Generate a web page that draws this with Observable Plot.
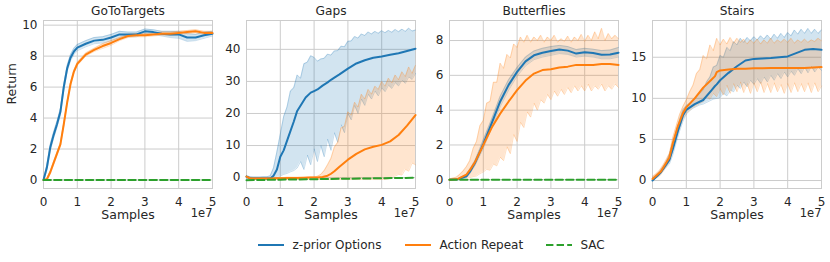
<!DOCTYPE html>
<html><head><meta charset="utf-8">
<script src="https://cdn.jsdelivr.net/npm/d3@7"></script>
<script src="https://cdn.jsdelivr.net/npm/@observablehq/plot@0.6"></script>
<style>
body{margin:0;background:#fff;font-family:"DejaVu Sans",sans-serif;}
#wrap{position:relative;width:830px;height:262px;overflow:hidden;background:#fff;}
#wrap > svg{position:absolute;top:0;overflow:visible;background:transparent;}
</style></head><body><div id="wrap"></div>
<script>
// ---------- data (x in units of 1e7 samples) ----------
const titles = ["GoToTargets", "Gaps", "Butterflies", "Stairs"];
const legendLabels = ["z-prior Options", "Action Repeat", "SAC"];
const xTicks = [0, 1, 2, 3, 4, 5];
const fineX = [0,0.1,0.2,0.3,0.4,0.5,0.6,0.7,0.8,0.9,1.0,1.1,1.2,1.3,1.4,1.5,1.6,1.7,1.8,1.9,2.0,2.1,2.2,2.3,2.4,2.5,2.6,2.7,2.8,2.9,3.0,3.1,3.2,3.3,3.4,3.5,3.6,3.7,3.8,3.9,4.0,4.1,4.2,4.3,4.4,4.5,4.6,4.7,4.8,4.9,5.0];

// GoToTargets
const gotoX   = [0,0.1,0.2,0.3,0.4,0.5,0.6,0.7,0.8,0.9,1.0,1.25,1.5,1.75,2.0,2.25,2.5,2.75,3.0,3.25,3.5,3.75,4.0,4.25,4.5,4.75,5.0];
const gotoZ   = [0,0.8,2.1,2.9,3.6,4.4,6.0,7.2,7.9,8.3,8.55,8.8,9.0,9.05,9.2,9.4,9.4,9.4,9.6,9.55,9.45,9.4,9.4,9.2,9.2,9.35,9.45];
const gotoZlo = [0,0.6,1.9,2.7,3.4,4.2,5.8,7.0,7.7,8.1,8.35,8.6,8.8,8.85,9.0,9.2,9.25,9.25,9.45,9.4,9.3,9.2,9.15,8.95,9.0,9.15,9.3];
const gotoZhi = [0,1.0,2.3,3.1,3.8,4.6,6.2,7.4,8.1,8.5,8.75,9.0,9.2,9.25,9.4,9.6,9.55,9.55,9.75,9.7,9.6,9.6,9.6,9.45,9.4,9.55,9.6];
const gotoA   = [0,0.05,0.5,1.1,1.7,2.3,3.6,5.0,6.2,7.0,7.5,8.1,8.4,8.65,8.85,9.1,9.3,9.35,9.35,9.4,9.45,9.45,9.5,9.55,9.6,9.5,9.5];
const gotoAlo = [0,0.0,0.4,1.0,1.6,2.2,3.5,4.9,6.1,6.9,7.4,8.0,8.3,8.5,8.7,9.0,9.2,9.25,9.25,9.3,9.35,9.35,9.4,9.45,9.5,9.4,9.4];
const gotoAhi = [0,0.1,0.6,1.2,1.8,2.4,3.7,5.1,6.3,7.1,7.6,8.2,8.5,8.8,9.0,9.2,9.4,9.45,9.45,9.5,9.55,9.55,9.6,9.65,9.7,9.6,9.6];
const gotoSacX = [0, 5];
const gotoSac  = [0, 0];

// Gaps
const gapsX   = [0,0.1,0.25,0.5,0.7,0.8,0.9,1.0,1.1,1.25,1.4,1.5,1.75,1.9,2.0,2.1,2.25,2.4,2.5,2.6,2.75,3.0,3.25,3.5,3.75,4.0,4.25,4.5,4.75,5.0];
const gapsZ   = [0.3,-0.2,-0.3,-0.3,-0.3,0.6,2.5,6.5,8.5,13,17.5,20.8,25,26.5,27,27.5,28.7,29.7,30.5,31.2,32.2,34,35.6,36.6,37.4,37.8,38.3,38.8,39.5,40.2];
const gapsA   = [0.3,-0.2,-0.3,-0.3,-0.3,-0.25,-0.2,-0.2,-0.2,-0.15,-0.1,-0.1,-0.05,0,0,0.05,0.2,0.6,1.2,2.0,3.4,5.6,7.4,8.8,9.6,10.2,11.3,13.3,16.2,19.5];
const gapsZlo = [-0.5,-0.5,-0.5,-0.5,-0.5,-0.5,-0.5,-0.5,-0.4,0, 0.5,1,1.3,1.8,2.2,3,5,2.5,7,4, 9,5,10,6.5,12,8.5,14,11,16.5,14, 20,18,22.5,20,24.5,22.5,26,24.5,27,25.5, 28,26.8,28.8,27.8,29.6,28.6,30.4,29.4,31.4,30.6, 32.5];
const gapsZhi = [0.6,0.3,0.2,0.2,0.2,0.3,0.3,0.5,3,8, 13.5,19,22,27,28,32,31,35.5,36,38, 37.5,36.3,37,37.2,38.5,38.2,39.5,39.6,41,40.8, 42.5,42.6,44,43.5,44.8,44.3,45.4,44.8,45.6,45, 45.8,45.2,45.9,45.3,46.2,45.5,46.3,45.6,46.6,45.7, 46];
const gapsAlo = [0,-0.6,-0.6,-0.6,-0.6,-0.6,-0.6,-0.6,-0.6,-0.6, -0.6,-0.6,-0.6,-0.6,-0.6,-0.6,-0.6,-0.6,-0.6,-0.6, -0.6,-0.6,-0.6,-0.6,-0.6,-0.6,-0.6,-0.6,-0.6,-0.6, -0.6,-0.6,-0.6,-0.6,-0.6,-0.6,-0.6,-0.6,-0.6,-0.6, -0.6,-0.6,-0.4,0,0.5,1,0.8,2.5,2,4.5, 4];
const gapsAhi = [0.5,0.1,-0.1,-0.1,-0.1,-0.1,-0.1,-0.1,0,0, 0,0,0.1,0.1,0.1,0.1,0.1,0.1,0.2,0.2, 0.2,0.4,1.0,2.2,4,6,9.5,11,15.5,16, 20.5,19.5,23.5,22,26,24.5,27.5,26,28.5,27.5, 30,28.5,31,29.5,32,30.5,33,31.5,34.5,32.5, 35];
const gapsSacX = [0, 1, 2, 3, 4, 5];
const gapsSac  = [-0.8, -0.65, -0.5, -0.35, -0.2, -0.05];

// Butterflies
const butX   = [0,0.25,0.5,0.6,0.75,0.9,1.0,1.25,1.5,1.75,2.0,2.25,2.5,2.75,3.0,3.25,3.5,3.75,4.0,4.25,4.5,4.75,5.0];
const butZ   = [0,0.03,0.2,0.45,0.95,1.6,2.05,3.25,4.5,5.45,6.2,6.8,7.15,7.3,7.4,7.48,7.42,7.25,7.32,7.28,7.18,7.2,7.3];
const butZlo = [0,0.01,0.12,0.35,0.8,1.4,1.8,3.0,4.2,5.15,5.95,6.55,6.9,7.05,7.15,7.25,7.2,7.05,7.1,7.05,6.95,6.95,7.05];
const butZhi = [0,0.06,0.3,0.6,1.1,1.8,2.3,3.5,4.8,5.75,6.45,7.05,7.4,7.55,7.65,7.72,7.65,7.48,7.55,7.5,7.42,7.45,7.6];
const butA   = [0,0.05,0.3,0.55,1.0,1.6,2.0,3.0,3.8,4.5,5.15,5.7,6.1,6.3,6.35,6.45,6.5,6.6,6.6,6.6,6.65,6.65,6.6];
const butAlo = [0,0,0,0.05,0.08,0.1,0.12,0.18,0.22,0.35, 0.45,0.6,0.55,0.9,0.8,1.3,1.1,1.9,1.5,2.6, 2.2,3.3,3.0,3.9,3.6,4.4,4.0,4.6,4.4,4.9, 4.6,5.1,4.8,5.2,4.9,5.3,5.0,5.4,5.1,5.4, 5.1,5.5,5.1,5.4,5.2,5.5,5.1,5.4,5.2,5.5, 5.3];
const butAhi = [0.05,0.1,0.15,0.3,0.5,0.75,1.1,1.8,2.2,3.1, 3.4,4.4,4.5,5.6,5.6,6.7,6.4,7.2,7.0,7.8, 7.6,8.2,7.9,8.3,7.9,8.2,8.0,8.3,7.9,8.2, 8.0,8.3,7.9,8.1,7.95,8.25,7.9,8.2,8.0,8.35, 7.95,8.3,8.0,8.5,8.1,8.7,8.0,8.4,8.1,8.3, 8.1];
const butSacX = [0, 5];
const butSac  = [0, 0];

// Stairs
const stX   = [0,0.25,0.5,0.6,0.75,0.9,1.0,1.25,1.5,1.75,1.85,1.9,2.0,2.25,2.5,2.75,3.0,3.25,3.5,3.75,4.0,4.25,4.5,4.75,5.0];
const stZ   = [0,1.0,2.5,3.8,6.0,7.9,8.6,9.3,9.8,11.0,11.5,11.7,12.2,13.1,13.9,14.6,14.8,14.85,14.9,15.0,15.1,15.5,15.9,16.0,15.9];
const stA   = [0.2,1.1,2.8,4.5,6.6,8.2,8.9,10.0,11.3,12.3,12.7,13.2,13.4,13.5,13.6,13.6,13.65,13.65,13.7,13.7,13.7,13.7,13.7,13.75,13.8];
const stZlo = [0,0.3,0.6,1.2,1.6,2.0,3.1,4.6,6.0,7.2, 8.1,8.5,8.8,9.0,9.2,9.3,9.5,9.7,9.9,10.0, 10.1,10.6,10.3,11.0,10.8,11.6,11.2,12.0,11.4,12.2, 11.7,12.4,11.8,12.6,12.0,12.8,12.2,13.0,12.4,13.2, 12.6,13.3,12.8,13.6,13.0,13.8,13.1,13.9,13.2,13.8, 13.4];
const stZhi = [0.3,0.6,1.0,1.6,2.2,3.2,4.6,6.0,7.4,8.6, 9.1,9.4,9.8,10.2,10.6,11.0,12.0,12.6,13.8,14.0, 15.2,15.0,16.2,15.8,16.9,16.5,17.3,16.8,17.4,17.0, 17.5,17.1,17.6,17.2,17.7,17.2,17.8,17.3,17.9,17.4, 18.0,17.6,18.3,17.8,18.4,17.9,18.5,17.9,18.4,17.9, 18.3];
const stAlo = [0,0.3,0.5,1.0,1.6,2.3,3.8,5.2,6.4,7.5, 8.1,8.5,8.9,9.1,9.4,9.6,10.2,9.9,10.6,10.2, 11.2,10.4,11.6,10.6,11.8,10.8,12.0,10.7,11.8,10.6, 11.9,10.8,12.0,10.7,11.8,10.7,11.9,10.8,11.7,10.6, 11.8,10.7,11.9,10.8,11.8,10.8,11.9,10.7,11.9,10.8, 11.5];
const stAhi = [0.5,0.8,1.2,1.8,2.5,3.3,5.2,6.6,8.0,9.0, 9.8,10.8,11.6,13.0,13.5,15.2,14.8,16.5,15.8,17.3, 16.5,17.2,16.6,17.4,16.7,17.3,16.8,17.2,16.6,17.1, 16.7,17.2,16.6,17.1,16.7,17.3,16.7,17.1,16.8,17.2, 16.8,17.3,16.7,17.1,16.8,17.2,16.8,17.1,16.9,17.3, 17.0];

const yTicksGoto = [0, 2, 4, 6, 8, 10];
const yTicksGaps = [0, 10, 20, 30, 40];
const yTicksBut  = [0, 2, 4, 6, 8];
const yTicksSt   = [0, 5, 10, 15];

// ---------- drawing ----------
const BLUE = "#1f77b4", ORANGE = "#ff7f0e", GREEN = "#2ca02c";
const line = (x, y) => x.map((v, i) => ({x: v, y: y[i]}));
const band = (x, lo, hi) => x.map((v, i) => ({x: v, lo: lo[i], hi: hi[i]}));

const panels = [
  {title: titles[0], left: 43.3, yDomain: [-0.55, 10.3], yTicks: yTicksGoto, ylabel: "Return",
   z: line(gotoX, gotoZ), zb: band(gotoX, gotoZlo, gotoZhi),
   a: line(gotoX, gotoA), ab: band(gotoX, gotoAlo, gotoAhi),
   sac: line(gotoSacX, gotoSac)},
  {title: titles[1], left: 246, yDomain: [-3.4, 49.0], yTicks: yTicksGaps,
   z: line(gapsX, gapsZ), zb: band(fineX, gapsZlo, gapsZhi),
   a: line(gapsX, gapsA), ab: band(fineX, gapsAlo, gapsAhi),
   sac: line(gapsSacX, gapsSac)},
  {title: titles[2], left: 448.5, yDomain: [-0.5, 9.15], yTicks: yTicksBut,
   z: line(butX, butZ), zb: band(butX, butZlo, butZhi),
   a: line(butX, butA), ab: band(fineX, butAlo, butAhi),
   sac: line(butSacX, butSac)},
  {title: titles[3], left: 651.7, yDomain: [-0.97, 19.47], yTicks: yTicksSt,
   z: line(stX, stZ), zb: band(fineX, stZlo, stZhi),
   a: line(stX, stA), ab: band(fineX, stAlo, stAhi),
   sac: null}
];

const ML = 40, MR = 12, PW = 169;
const wrap = document.getElementById("wrap");
const TXT = "#262626";

for (const p of panels) {
  const bandMarks = (d, c) => [
    Plot.areaY(d, {x: "x", y1: "lo", y2: "hi", fill: c, fillOpacity: 0.2}),
    Plot.lineY(d, {x: "x", y: "lo", stroke: c, strokeOpacity: 0.3, strokeWidth: 0.8}),
    Plot.lineY(d, {x: "x", y: "hi", stroke: c, strokeOpacity: 0.3, strokeWidth: 0.8})
  ];
  const marks = [
    Plot.gridX(xTicks, {stroke: "#cccccc", strokeOpacity: 1, strokeWidth: 1}),
    Plot.gridY(p.yTicks, {stroke: "#cccccc", strokeOpacity: 1, strokeWidth: 1}),
    Plot.frame({stroke: "#cccccc", strokeWidth: 1}),
    ...bandMarks(p.zb, BLUE),
    ...bandMarks(p.ab, ORANGE),
    Plot.lineY(p.z, {x: "x", y: "y", stroke: BLUE, strokeWidth: 2}),
    Plot.lineY(p.a, {x: "x", y: "y", stroke: ORANGE, strokeWidth: 2}),
    p.sac ? Plot.lineY(p.sac, {x: "x", y: "y", stroke: GREEN, strokeWidth: 2, strokeDasharray: "7.4,3.2"}) : null,
    Plot.axisX(xTicks, {tickSize: 0, tickPadding: 8.5, fontSize: 12, fill: TXT, tickFormat: d => String(d), label: null}),
    Plot.axisY(p.yTicks, {tickSize: 0, tickPadding: 6, fontSize: 12, fill: TXT, tickFormat: d => String(d), label: null}),
    Plot.text([p.title], {text: d => d, frameAnchor: "top", lineAnchor: "middle", dy: -9.3, fontSize: 12.2, fill: TXT}),
    Plot.text(["Samples"], {text: d => d, frameAnchor: "bottom", lineAnchor: "middle", dy: 26.5, fontSize: 12.5, fill: TXT}),
    Plot.text(["1e7"], {text: d => d, frameAnchor: "bottom-right", lineAnchor: "middle", dy: 25, textAnchor: "end", fontSize: 11.5, fill: TXT}),
    p.ylabel ? Plot.text([p.ylabel], {text: d => d, frameAnchor: "left", lineAnchor: "middle", dx: -32, rotate: -90, fontSize: 12.5, fill: TXT}) : null
  ].filter(Boolean);
  const svg = Plot.plot({
    width: ML + PW + MR, height: 230,
    marginLeft: ML, marginRight: MR, marginTop: 20, marginBottom: 42,
    x: {domain: [0, 5]},
    y: {domain: p.yDomain},
    style: {fontFamily: "DejaVu Sans", fontSize: "12px", color: TXT, background: "transparent", overflow: "visible"},
    marks
  });
  svg.style.left = (p.left - ML) + "px";
  wrap.appendChild(svg);
}

// legend
const NS = "http://www.w3.org/2000/svg";
const lg = document.createElementNS(NS, "svg");
lg.setAttribute("width", 830); lg.setAttribute("height", 262);
lg.style.position = "absolute"; lg.style.left = "0px"; lg.style.top = "0px";
const items = [
  {label: legendLabels[0], color: BLUE, x: 258, dash: null},
  {label: legendLabels[1], color: ORANGE, x: 405, dash: null},
  {label: legendLabels[2], color: GREEN, x: 546, dash: "7.4,3.2"}
];
for (const it of items) {
  const l = document.createElementNS(NS, "line");
  l.setAttribute("x1", it.x); l.setAttribute("x2", it.x + 26);
  l.setAttribute("y1", 245); l.setAttribute("y2", 245);
  l.setAttribute("stroke", it.color); l.setAttribute("stroke-width", 2);
  if (it.dash) l.setAttribute("stroke-dasharray", it.dash);
  lg.appendChild(l);
  const t = document.createElementNS(NS, "text");
  t.setAttribute("x", it.x + 34.5); t.setAttribute("y", 249.3);
  t.setAttribute("font-family", "DejaVu Sans"); t.setAttribute("font-size", 12);
  t.setAttribute("fill", TXT);
  t.textContent = it.label;
  lg.appendChild(t);
}
wrap.appendChild(lg);
</script>
</body></html>
